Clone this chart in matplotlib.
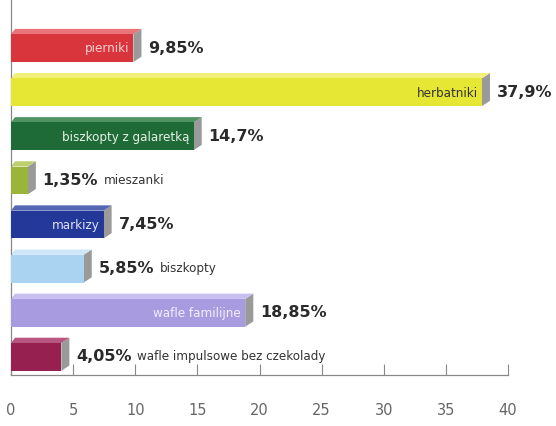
import matplotlib.pyplot as plt
from matplotlib.patches import Polygon

names = ['pierniki', 'herbatniki', 'biszkopty z galaretką', 'mieszanki', 'markizy',
         'biszkopty', 'wafle familijne', 'wafle impulsowe bez czekolady']
values = [9.85, 37.9, 14.7, 1.35, 7.45, 5.85, 18.85, 4.05]
labels = ['9,85%', '37,9%', '14,7%', '1,35%', '7,45%', '5,85%', '18,85%', '4,05%']
inside = [True, True, True, False, True, False, True, False]
colors = ['#d8353c', '#e6e635', '#1f6b37', '#9bb53a', '#24389a', '#aad3f2', '#a89be0', '#962050']
tops = ['#e87378', '#f0f07a', '#4f9263', '#bcd06e', '#5566b5', '#cfe6f8', '#c7bff0', '#b85580']
name_colors = ['#f6d0d0', '#333333', '#e6f0e6', '#333333', '#dfe3f5', '#333333', '#f2efff', '#333333']

narrow = ['Liberation Sans Narrow', 'DejaVu Sans']

fig = plt.figure(figsize=(5.56, 4.26), dpi=100)
ax = fig.add_axes([11/556, 51/426, 497/556, 375/426])

h = 0.63
dx = 0.65
dy = 0.12
ys = list(range(len(values)))

# gray side face + lighter top face
for y, v in zip(ys, values):
    side = Polygon([(v, y - h/2), (v + dx, y - h/2 - dy), (v + dx, y + h/2 - dy), (v, y + h/2)],
                   closed=True, facecolor='#9a9a9a', edgecolor='none', zorder=2)
    ax.add_patch(side)
    top = Polygon([(0, y - h/2), (dx * 0.5, y - h/2 - dy), (v + dx, y - h/2 - dy), (v, y - h/2)],
                  closed=True, facecolor=tops[y], edgecolor='none', zorder=2)
    ax.add_patch(top)

ax.barh(ys, values, height=h, color=colors, zorder=3)

for y, v, lab, nm, ins, nc in zip(ys, values, labels, names, inside, name_colors):
    t = ax.text(v + dx + 0.55, y, lab, fontsize=11.5, fontweight='bold', color='#2a2a2a',
                va='center', ha='left', zorder=4)
    if ins:
        ax.text(v - 0.35, y + 0.02, nm, fontsize=9.5, color=nc, family=narrow,
                fontstretch='condensed', va='center', ha='right', zorder=4)
    else:
        ax.annotate(nm, xy=(1, 0.5), xycoords=t, xytext=(4, 0), textcoords='offset points',
                    fontsize=9.5, color='#333333', family=narrow, fontstretch='condensed',
                    va='center', ha='left')

ax.set_xlim(0, 40)
ax.set_ylim(7.41, -1.09)
ax.set_xticks(range(0, 41, 5))
ax.set_yticks([])
for s in ['top', 'right']:
    ax.spines[s].set_visible(False)
for s in ['left', 'bottom']:
    ax.spines[s].set_color('#888888')
    ax.spines[s].set_linewidth(0.9)
ax.tick_params(axis='x', direction='in', length=8, color='#888888', labelcolor='#666666',
               labelsize=10.5, pad=20)

fig.savefig('out.png', dpi=100)
